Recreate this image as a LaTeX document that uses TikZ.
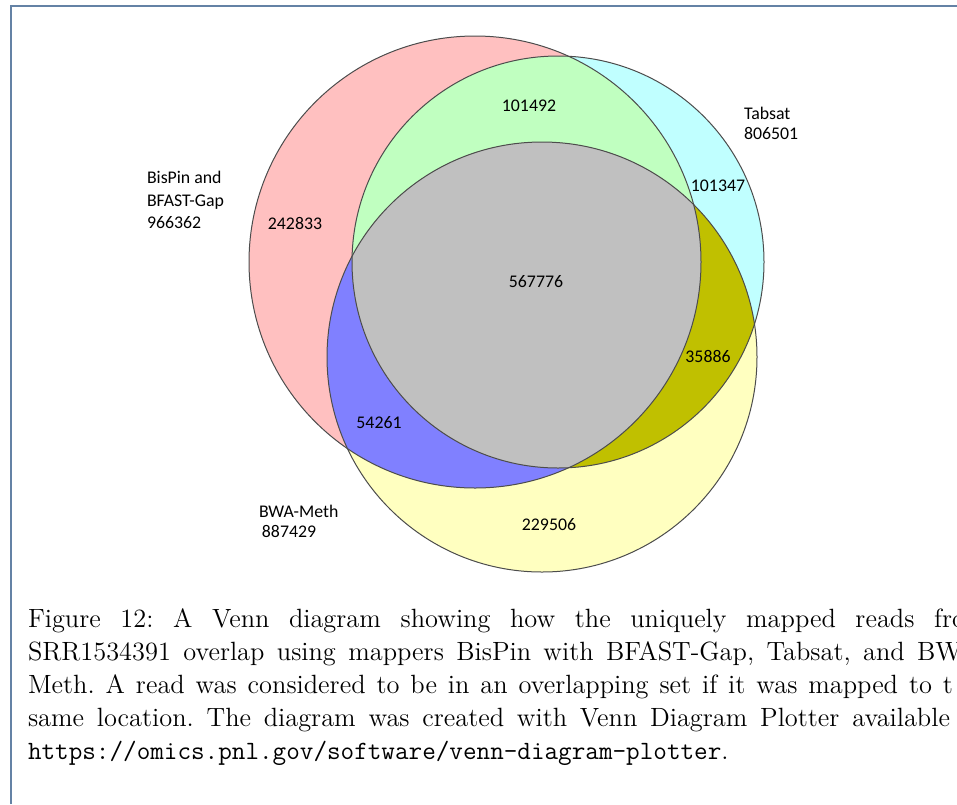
\documentclass[tikz,border=0pt]{standalone}
\usepackage{fontspec}
\usepackage{xcolor}
\usepackage{tikz}
\usetikzlibrary{positioning}
\newfontfamily\vennfont{Carlito}
\definecolor{bispincol}{RGB}{255,192,192}
\definecolor{tabsatcol}{RGB}{192,255,255}
\definecolor{bwacol}{RGB}{255,255,192}
\definecolor{bitacol}{RGB}{192,255,192}
\definecolor{bibwcol}{RGB}{128,128,255}
\definecolor{tabwcol}{RGB}{192,192,0}
\definecolor{allcol}{RGB}{192,192,192}
\definecolor{framecol}{RGB}{100,130,165}
\frenchspacing

\begin{document}
\begin{tikzpicture}[
  x=0.5pt, y=-0.5pt,
  every node/.style={inner sep=0pt, outer sep=0pt},
  setname/.style={font=\vennfont\fontsize{8.9}{11.25}\selectfont,
                  align=left, anchor=north west},
  count/.style={font=\vennfont\fontsize{8.9}{10}\selectfont, anchor=base},
  rim/.style={draw=black!70, line width=0.5pt},
  capline/.style={font=\fontsize{13.2}{17}\selectfont, anchor=base west}
]
\useasboundingbox (0,0) rectangle (957,804);
\clip (0,0) rectangle (957,804);

\coordinate (cb) at (475,262);   % BisPin and BFAST-Gap
\coordinate (ct) at (558,262);   % Tabsat
\coordinate (cw) at (542,357);   % BWA-Meth
\def\rb{113pt}
\def\rt{103pt}
\def\rw{107.5pt}

% frame of the figure box
\draw[framecol, line width=1pt] (10.5,804) -- (10.5,5.7) -- (957,5.7);

% single sets
\fill[bispincol] (cb) circle[radius=\rb];
\fill[tabsatcol] (ct) circle[radius=\rt];
\fill[bwacol] (cw) circle[radius=\rw];

% pairwise overlaps
\begin{scope}
  \clip (cb) circle[radius=\rb];
  \fill[bitacol] (ct) circle[radius=\rt];
  \fill[bibwcol] (cw) circle[radius=\rw];
\end{scope}
\begin{scope}
  \clip (ct) circle[radius=\rt];
  \fill[tabwcol] (cw) circle[radius=\rw];
\end{scope}
\begin{scope}
  \clip (cb) circle[radius=\rb];
  \clip (ct) circle[radius=\rt];
  \fill[allcol] (cw) circle[radius=\rw];
\end{scope}

\draw[rim] (cb) circle[radius=\rb];
\draw[rim] (ct) circle[radius=\rt];
\draw[rim] (cw) circle[radius=\rw];

% set names
\node[setname] (nbispin) at (147,171.5) {BisPin and\\BFAST-Gap\\966362};
\node[setname] (ntabsat) at (744,107.5) {Tabsat\\[-1.2pt]806501};
\node[setname] (nbwa) at (259,505.5) {BWA-Meth\\[-1.5pt]\,887429};

% region counts
\node[count] (kb) at (295,229) {242833};
\node[count] (kbt) at (529,111) {101492};
\node[count] (kt) at (718,191) {101347};
\node[count] (kall) at (536,287) {567776};
\node[count] (ktw) at (708,362) {35886};
\node[count] (kbw) at (379,428) {54261};
\node[count] (kw) at (549,530) {229506};

% caption
\node[capline] (cap1) at (28,627) {\makebox[468.5pt][s]{Figure 12: A Venn diagram showing how the uniquely mapped reads fro}};
\node[capline] (cap2) at (28,660) {\makebox[467pt][s]{SRR1534391 overlap using mappers BisPin with BFAST-Gap, Tabsat, and BW}};
\node[capline] (cap3) at (28,693) {\makebox[462.5pt][s]{Meth. A read was considered to be in an overlapping set if it was mapped to t}};
\node[capline] (cap4) at (28,726) {\makebox[461pt][s]{same location. The diagram was created with Venn Diagram Plotter available}};
\node[capline] (cap5) at (28,759) {\texttt{https://omics.pnl.gov/software/venn-diagram-plotter}.};
\end{tikzpicture}
\end{document}
